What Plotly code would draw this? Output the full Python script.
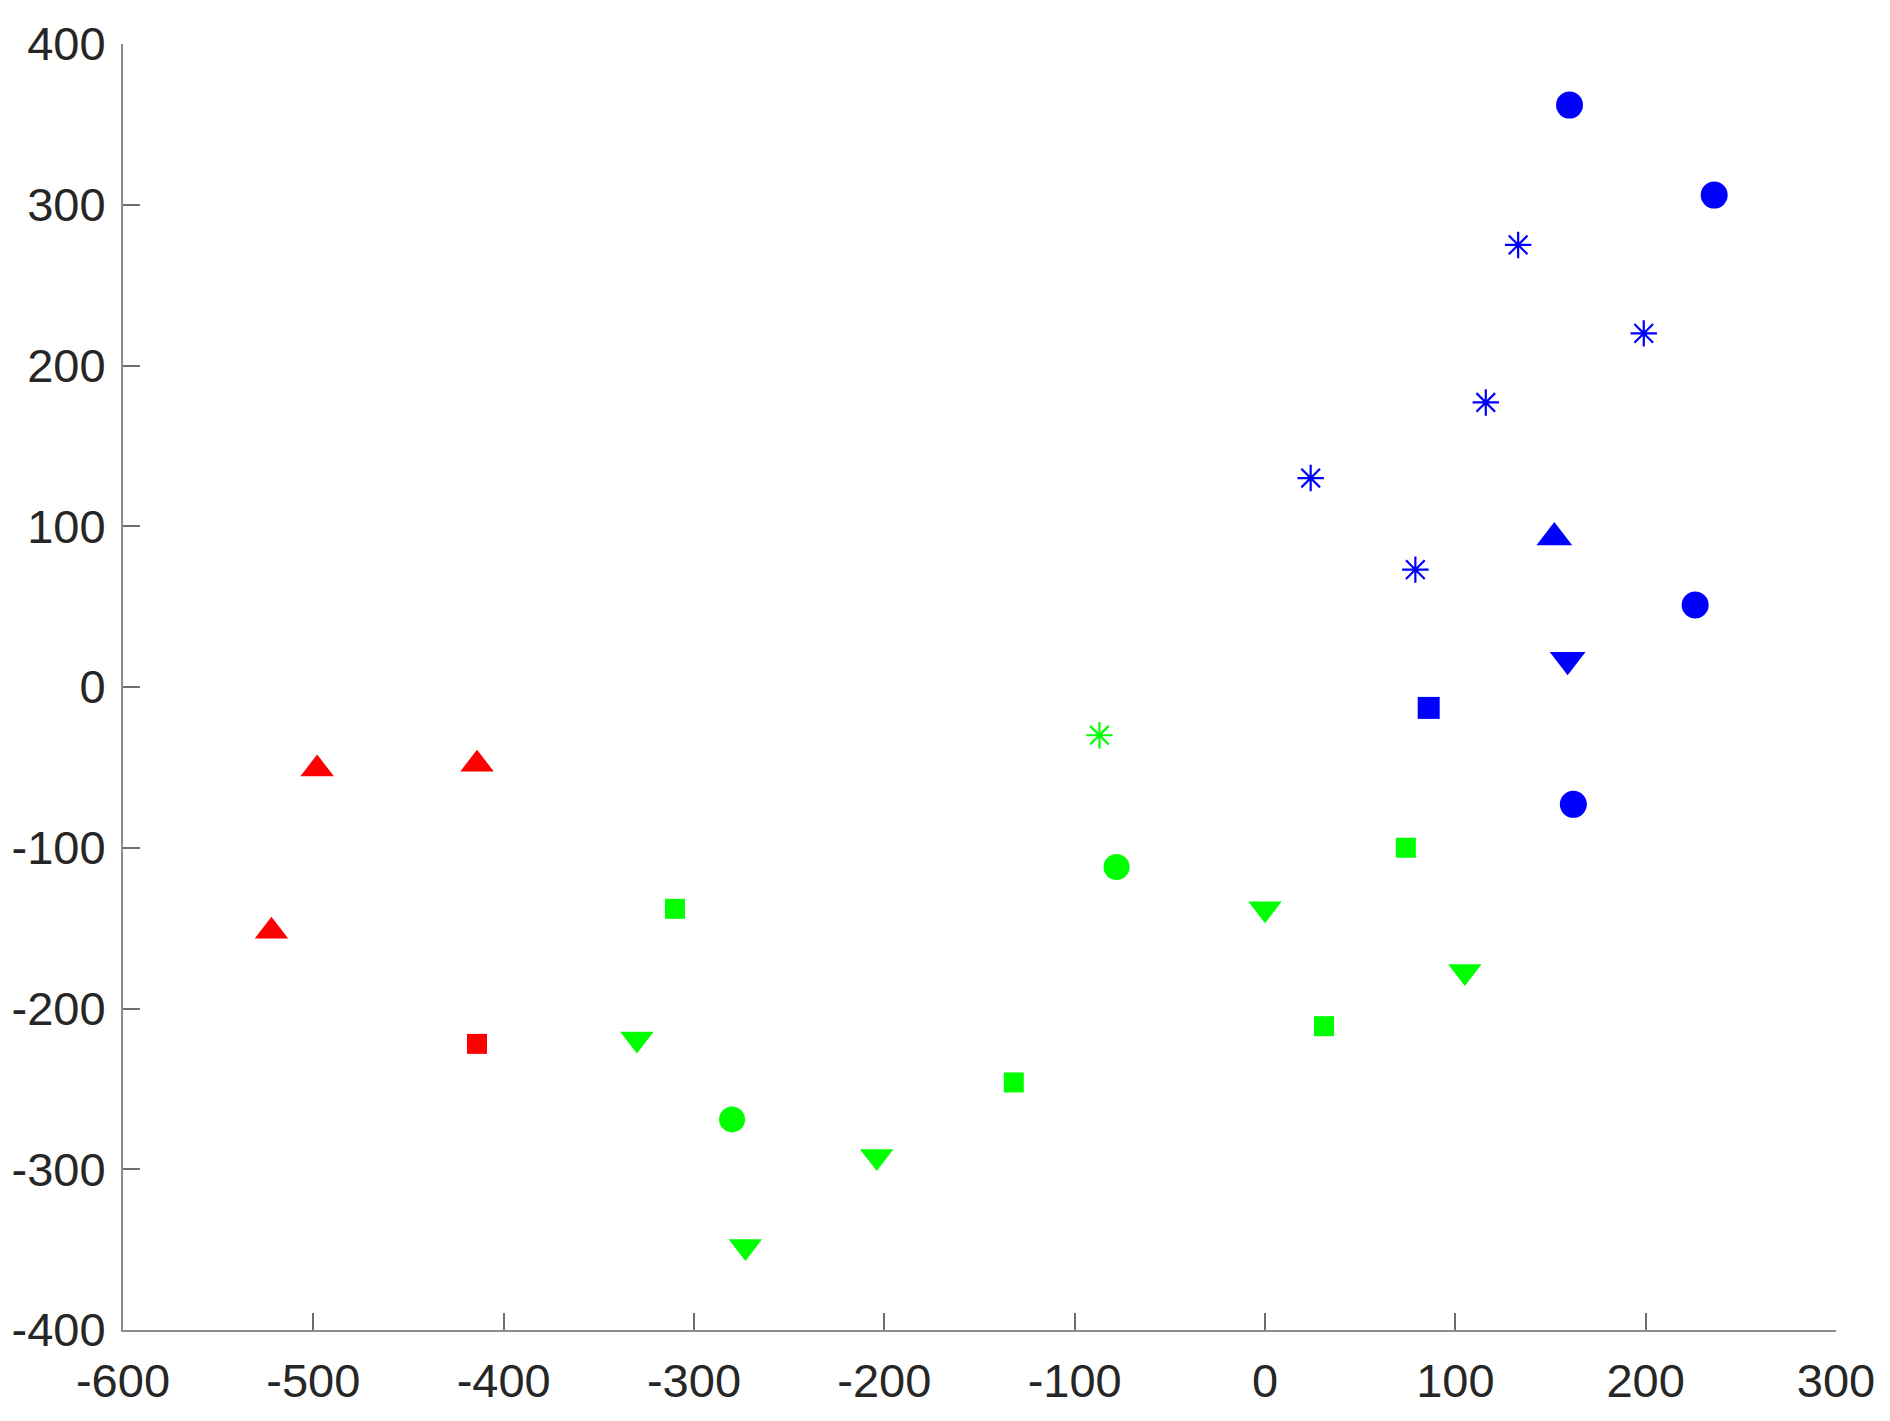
import plotly.graph_objects as go

# blue group
blue_circle_x = [160, 236, 226, 162]
blue_circle_y = [362, 306, 51, -73]
blue_star_x = [133, 199, 116, 24, 79]
blue_star_y = [275, 220, 177, 130, 73]
blue_up_x = [152]
blue_up_y = [93]
blue_down_x = [159]
blue_down_y = [17]
blue_square_x = [86]
blue_square_y = [-13]

# green group
green_star_x = [-87]
green_star_y = [-30]
green_circle_x = [-78, -280]
green_circle_y = [-112, -269]
green_square_x = [74, -310, 31, -132]
green_square_y = [-100, -138, -211, -246]
green_down_x = [0, 105, -330, -204, -273]
green_down_y = [-138, -177, -219, -292, -348]

# red group
red_up_x = [-498, -414, -522]
red_up_y = [-51, -48, -152]
red_square_x = [-414]
red_square_y = [-222]

x_ticks = list(range(-600, 301, 100))
y_ticks = list(range(-400, 401, 100))

BLUE, GREEN, RED = '#0000ff', '#00ff00', '#ff0000'

groups = [
    (blue_circle_x, blue_circle_y, BLUE, 'circle', 27),
    (blue_star_x, blue_star_y, BLUE, 'asterisk-open', 22),
    (blue_up_x, blue_up_y, BLUE, 'triangle-up', 31),
    (blue_down_x, blue_down_y, BLUE, 'triangle-down', 31),
    (blue_square_x, blue_square_y, BLUE, 'square', 22),
    (green_star_x, green_star_y, GREEN, 'asterisk-open', 22),
    (green_circle_x, green_circle_y, GREEN, 'circle', 26),
    (green_square_x, green_square_y, GREEN, 'square', 20),
    (green_down_x, green_down_y, GREEN, 'triangle-down', 29),
    (red_up_x, red_up_y, RED, 'triangle-up', 29),
    (red_square_x, red_square_y, RED, 'square', 20),
]

fig = go.Figure()
for xs, ys, col, sym, sz in groups:
    fig.add_trace(go.Scatter(
        x=xs, y=ys, mode='markers',
        marker=dict(symbol=sym, size=sz, color=col,
                    line=dict(color=col, width=2.2 if 'asterisk' in sym else 0)),
        showlegend=False,
    ))

axis_common = dict(
    showgrid=False, zeroline=False, automargin=False,
    showline=True, linecolor='#8c8c8c', linewidth=2,
    ticks='inside', ticklen=17, tickwidth=2, tickcolor='#6e6e6e',
    tickfont=dict(family='Liberation Sans, Arial, sans-serif', size=47, color='#262626'),
    mirror=False,
)

# page body adds an 8px offset, so margins are shifted to compensate
fig.update_layout(
    width=1890, height=1421,
    margin=dict(l=115, r=62, t=36, b=99),
    plot_bgcolor='white', paper_bgcolor='white',
    xaxis=dict(range=[-600, 300], tickvals=x_ticks,
               ticktext=[str(v) for v in x_ticks], ticklabelstandoff=9, **axis_common),
    yaxis=dict(range=[-400, 400], tickvals=y_ticks,
               ticktext=[str(v) for v in y_ticks], ticklabelstandoff=6, **axis_common),
)

fig.write_html("out.html")
